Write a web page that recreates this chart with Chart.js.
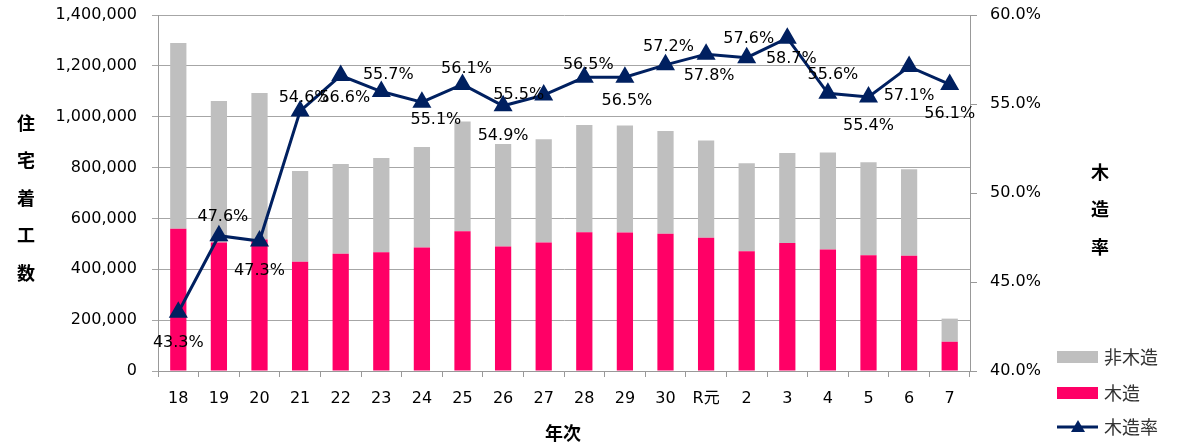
<!DOCTYPE html>
<html>
<head>
<meta charset="utf-8">
<script src="https://cdn.jsdelivr.net/npm/chart.js@4"></script>
<style>
  body { margin: 0; background: #fff; }
  #wrap { width: 1191px; height: 446px; }
</style>
</head>
<body>
<div id="wrap"><canvas id="housingChart" width="1191" height="446"></canvas></div>
<script>
const years = ['18', '19', '20', '21', '22', '23', '24', '25', '26', '27', '28', '29', '30', 'R元', '2', '3', '4', '5', '6', '7'];
const wooden = [559000, 505000, 517000, 430000, 461000, 467000, 486000, 550000, 490000, 505000, 546000, 545000, 540000, 524000, 471000, 503000, 478000, 455000, 453000, 115000];
const nonWooden = [731000, 557000, 576000, 357000, 353000, 371000, 395000, 431000, 403000, 406000, 421000, 420000, 404000, 382000, 346000, 354000, 381000, 366000, 340000, 91000];
const woodRate = [43.3, 47.6, 47.3, 54.6, 56.6, 55.7, 55.1, 56.1, 54.9, 55.5, 56.5, 56.5, 57.2, 57.8, 57.6, 58.7, 55.6, 55.4, 57.1, 56.1];

const tickFont = { family: 'DejaVu Sans, "Noto Sans CJK JP"', size: 16 };
const cjk = '"Noto Sans CJK JP", sans-serif';

// where each rate label sits relative to its point (text centre)
const labelOffsets = [
    [0, 30], [4, -20], [0, 29], [4, -14], [4, 21], [7, -18], [14, 17], [4, -17], [0, 29], [-25, -1],
    [4, -13], [2, 23], [3, -19], [3, 21], [2, -20], [4, 20], [5, -19], [0, 28], [0, 28], [0, 28]
];

const extras = {
    id: 'extras',
    afterDatasetsDraw(chart) {
        const ctx = chart.ctx;
        const meta = chart.getDatasetMeta(2);
        ctx.save();
        ctx.font = '16px DejaVu Sans';
        ctx.fillStyle = '#000';
        ctx.textAlign = 'center';
        ctx.textBaseline = 'middle';
        meta.data.forEach((pt, i) => {
            const off = labelOffsets[i];
            ctx.fillText(woodRate[i].toFixed(1) + '%', pt.x + off[0], pt.y + off[1] + 1);
        });

        // axis titles
        ctx.font = 'bold 18px ' + cjk;
        ctx.fillStyle = '#000';
        '住宅着工数'.split('').forEach((c, i) => ctx.fillText(c, 26, 123 + i * 37.5));
        '木造率'.split('').forEach((c, i) => ctx.fillText(c, 1100, 172 + i * 37.5));
        ctx.fillText('年次', 563, 433);

        // legend
        const ds = chart.data.datasets;
        ctx.font = '18px ' + cjk;
        ctx.textAlign = 'left';
        const items = [
            { ds: ds[1], y: 357 },
            { ds: ds[0], y: 393 },
            { ds: ds[2], y: 427 }
        ];
        items.forEach(it => {
            if (it.ds.type === 'line') {
                ctx.strokeStyle = it.ds.borderColor;
                ctx.lineWidth = 3;
                ctx.beginPath();
                ctx.moveTo(1057, it.y);
                ctx.lineTo(1098, it.y);
                ctx.stroke();
                ctx.fillStyle = it.ds.borderColor;
                ctx.beginPath();
                ctx.moveTo(1078, it.y - 7);
                ctx.lineTo(1085, it.y + 5);
                ctx.lineTo(1071, it.y + 5);
                ctx.closePath();
                ctx.fill();
            } else {
                ctx.fillStyle = it.ds.backgroundColor;
                ctx.fillRect(1057, it.y - 6, 41, 12);
            }
            ctx.fillStyle = '#333';
            ctx.fillText(it.ds.label, 1104, it.y);
        });
        ctx.restore();
    }
};

function fitY(width) {
    return s => { s.width = width; s.paddingTop = 0; s.paddingBottom = 0; };
}

new Chart(document.getElementById('housingChart'), {
    data: {
        labels: years,
        datasets: [
            { type: 'bar', label: '木造', data: wooden, backgroundColor: '#FF0066', yAxisID: 'y', order: 2, stack: 's' },
            { type: 'bar', label: '非木造', data: nonWooden, backgroundColor: '#BFBFBF', yAxisID: 'y', order: 2, stack: 's' },
            {
                type: 'line', label: '木造率', data: woodRate, yAxisID: 'y1', order: 0,
                borderColor: '#002060', backgroundColor: '#002060', borderWidth: 3,
                pointStyle: 'triangle', pointRadius: 8, pointHoverRadius: 8, tension: 0
            }
        ]
    },
    options: {
        responsive: false,
        animation: false,
        events: [],
        layout: { padding: { top: 15, left: 0, right: 0, bottom: 0 } },
        datasets: { bar: { barPercentage: 0.4, categoryPercentage: 1 } },
        plugins: { legend: { display: false }, tooltip: { enabled: false } },
        scales: {
            x: {
                stacked: true,
                afterFit(s) { s.height = 75; s.paddingLeft = 0; s.paddingRight = 0; },
                grid: { offset: true, drawOnChartArea: false, tickLength: 6, color: '#999' },
                border: { color: '#999' },
                ticks: { font: tickFont, color: '#000', padding: 12, maxRotation: 0, autoSkip: false }
            },
            y: {
                stacked: true,
                min: 0, max: 1400000,
                afterFit: fitY(158),
                grid: { color: '#A6A6A6', tickLength: 6 },
                border: { color: '#999' },
                ticks: {
                    stepSize: 200000, font: tickFont, color: '#000', padding: 15,
                    callback: v => v.toLocaleString('en-US')
                }
            },
            y1: {
                position: 'right',
                min: 40, max: 60,
                afterFit: fitY(221),
                grid: { drawOnChartArea: false, tickLength: 7, color: '#999' },
                border: { color: '#999' },
                ticks: {
                    stepSize: 5, font: tickFont, color: '#000', padding: 13,
                    callback: v => v.toFixed(1) + '%'
                }
            }
        }
    },
    plugins: [extras]
});
</script>
</body>
</html>
